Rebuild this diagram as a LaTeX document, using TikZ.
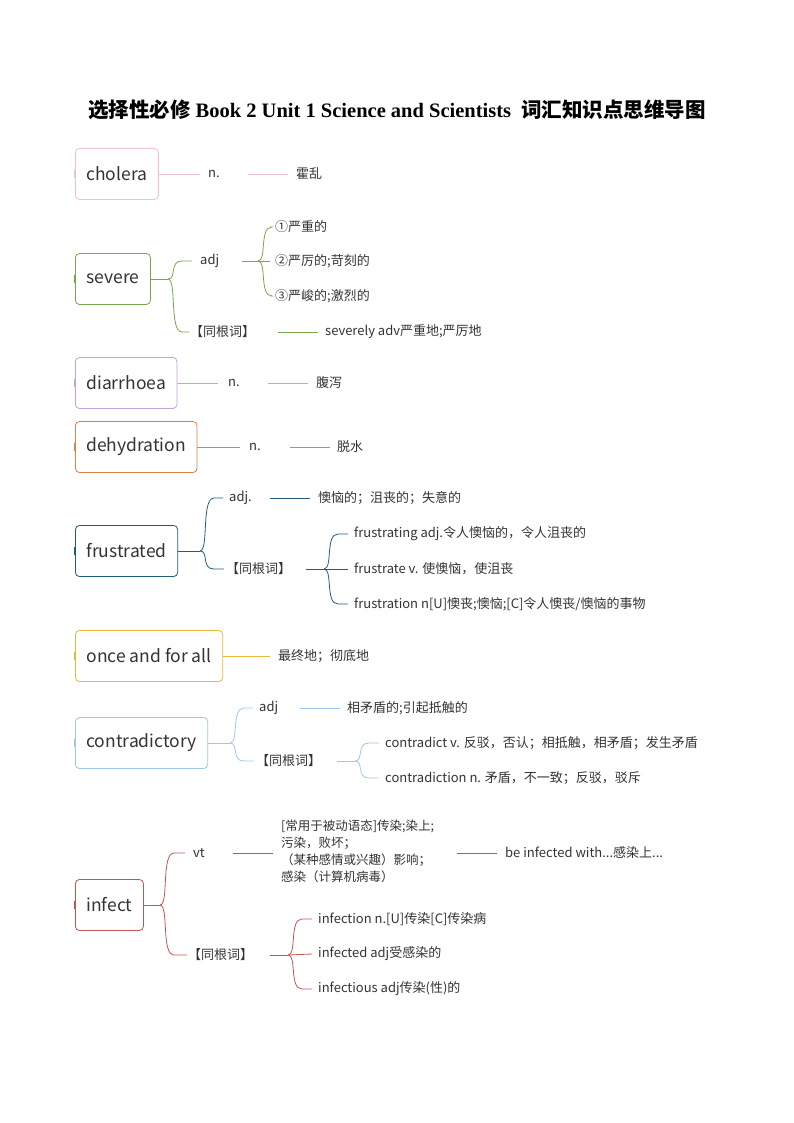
\documentclass[tikz,border=0pt]{standalone}
\usepackage{fontspec}
\setmainfont{Liberation Serif}
\newfontfamily\cjk{Noto Sans CJK SC}
\definecolor{cPink}{HTML}{F0C2CA}
\definecolor{cGreen}{HTML}{7AA54A}
\definecolor{cPurple}{HTML}{C9A0DC}
\definecolor{cOrange}{HTML}{D9834A}
\definecolor{cTeal}{HTML}{1F5F7A}
\definecolor{cGold}{HTML}{E8B93A}
\definecolor{cBlue}{HTML}{9CC7EE}
\definecolor{cRed}{HTML}{C0574E}
\definecolor{txt}{HTML}{333333}
\tikzset{
 rootbox/.style={draw=#1,line width=0.8pt,rounded corners=4pt,anchor=west,minimum height=51pt,inner xsep=11pt,font=\cjk\fontsize{17.5}{20}\selectfont,text=txt},
 leaf/.style={anchor=west,inner sep=0pt,font=\cjk\fontsize{13}{17}\selectfont,text=txt,align=left},
 ln/.style={draw=#1,line width=0.8pt},
}
\newcommand\tick[2]{\fill[#1] ([xshift=-1.5pt,yshift=-4pt]#2.west) rectangle ([xshift=1pt,yshift=4pt]#2.west);}
% \brc{color}{x}{yc}{yk}{target}
\newcommand\brc[5]{\draw[ln=#1] (#2,#3) .. controls (#2+9,#3) and (#2+1,#4) .. (#2+14,#4) -- (#5);}
\begin{document}
\begin{tikzpicture}[x=1pt,y=-1pt]
\useasboundingbox (0,0) rectangle (794,1123);
\node[font=\bfseries\fontsize{20.5}{24}\selectfont,anchor=center] (title) at (397,110) {{\cjk\bfseries 选择性必修} Book 2 Unit 1 Science and Scientists\ \ {\cjk\bfseries 词汇知识点思维导图}};

% cholera
\node[rootbox=cPink] (r1) at (75,174) {cholera};
\tick{cPink}{r1}
\node[leaf] (r1a) at (208,174) {n.};
\node[leaf] (r1b) at (296,174) {霍乱};
\draw[ln=cPink] (r1.east) -- ([xshift=-8pt]r1a.west);
\draw[ln=cPink] (248,174) -- ([xshift=-8pt]r1b.west);

% severe
\node[rootbox=cGreen] (r2) at (75,279) {severe};
\tick{cGreen}{r2}
\node[leaf] (r2a) at (200,261) {adj};
\node[leaf] (r2b) at (190,332) {【同根词】};
\node[leaf] (r2a1) at (275,227) {①严重的};
\node[leaf] (r2a2) at (275,261) {②严厉的;苛刻的};
\node[leaf] (r2a3) at (275,296) {③严峻的;激烈的};
\node[leaf] (r2b1) at (325,332) {severely adv严重地;严厉地};
\draw[ln=cGreen] (r2.east) -- (168,279);
\brc{cGreen}{168}{279}{261}{[xshift=-8pt]r2a.west}
\brc{cGreen}{168}{279}{332}{[xshift=-1pt]r2b.west}
\draw[ln=cGreen] (242,261) -- (258,261);
\brc{cGreen}{258}{261}{227}{[xshift=-5pt]r2a1.west}
\draw[ln=cGreen] (258,261) -- ([xshift=-5pt]r2a2.west);
\brc{cGreen}{258}{261}{296}{[xshift=-5pt]r2a3.west}
\draw[ln=cGreen] (278,332) -- ([xshift=-7pt]r2b1.west);

% diarrhoea
\node[rootbox=cPurple] (r3) at (75,383) {diarrhoea};
\tick{cPurple}{r3}
\node[leaf] (r3a) at (228,383) {n.};
\node[leaf] (r3b) at (316,383) {腹泻};
\draw[ln=cPurple] (r3.east) -- ([xshift=-10pt]r3a.west);
\draw[ln=cPurple] (268,383) -- ([xshift=-8pt]r3b.west);

% dehydration
\node[rootbox=cOrange] (r4) at (75,447) {dehydration};
\tick{cOrange}{r4}
\node[leaf] (r4a) at (249,447) {n.};
\node[leaf] (r4b) at (337,447) {脱水};
\draw[ln=cOrange] (r4.east) -- ([xshift=-9pt]r4a.west);
\draw[ln=cOrange] (290,447) -- ([xshift=-7pt]r4b.west);

% frustrated
\node[rootbox=cTeal] (r5) at (75,551) {frustrated};
\tick{cTeal}{r5}
\node[leaf] (r5a) at (229,498) {adj.};
\node[leaf] (r5b) at (226,569) {【同根词】};
\node[leaf] (r5a1) at (318,498) {懊恼的；沮丧的；失意的};
\node[leaf] (r5b1) at (354,534) {frustrating adj.令人懊恼的，令人沮丧的};
\node[leaf] (r5b2) at (354,569) {frustrate v. 使懊恼，使沮丧};
\node[leaf] (r5b3) at (354,604) {frustration n[U]懊丧;懊恼;[C]令人懊丧/懊恼的事物};
\draw[ln=cTeal] (r5.east) -- (200,551);
\brc{cTeal}{200}{551}{498}{[xshift=-6pt]r5a.west}
\brc{cTeal}{200}{551}{569}{[xshift=-2pt]r5b.west}
\draw[ln=cTeal] (270,498) -- ([xshift=-8pt]r5a1.west);
\draw[ln=cTeal] (306,569) -- (324,569);
\brc{cTeal}{324}{569}{534}{[xshift=-6pt]r5b1.west}
\draw[ln=cTeal] (324,569) -- ([xshift=-6pt]r5b2.west);
\brc{cTeal}{324}{569}{604}{[xshift=-6pt]r5b3.west}

% once and for all
\node[rootbox=cGold] (r6) at (75,656) {once and for all};
\tick{cGold}{r6}
\node[leaf] (r6a) at (278,656) {最终地；彻底地};
\draw[ln=cGold] (r6.east) -- ([xshift=-8pt]r6a.west);

% contradictory
\node[rootbox=cBlue] (r7) at (75,743) {contradictory};
\tick{cBlue}{r7}
\node[leaf] (r7a) at (259,708) {adj};
\node[leaf] (r7b) at (256,761) {【同根词】};
\node[leaf] (r7a1) at (347,708) {相矛盾的;引起抵触的};
\node[leaf] (r7b1) at (385,743) {contradict v. 反驳，否认；相抵触，相矛盾；发生矛盾};
\node[leaf] (r7b2) at (385,778) {contradiction n. 矛盾，不一致；反驳，驳斥};
\draw[ln=cBlue] (r7.east) -- (230,743);
\brc{cBlue}{230}{743}{708}{[xshift=-6pt]r7a.west}
\brc{cBlue}{230}{743}{761}{[xshift=-2pt]r7b.west}
\draw[ln=cBlue] (300,708) -- ([xshift=-7pt]r7a1.west);
\draw[ln=cBlue] (337,761) -- (355,761);
\brc{cBlue}{355}{761}{743}{[xshift=-6pt]r7b1.west}
\brc{cBlue}{355}{761}{778}{[xshift=-6pt]r7b2.west}

% infect
\node[rootbox=cRed] (r8) at (75,905) {infect};
\tick{cRed}{r8}
\node[leaf] (r8a) at (193,853) {vt};
\node[leaf] (r8b) at (188,955) {【同根词】};
\node[leaf,font=\cjk\fontsize{12.5}{17}\selectfont] (r8a1) at (281,851) {[常用于被动语态]传染;染上;\\污染，败坏；\\（某种感情或兴趣）影响；\\感染（计算机病毒）};
\node[leaf] (r8a2) at (505,853) {be infected with...感染上...};
\draw[ln=cRed] (r8.east) -- (160,905);
\brc{cRed}{160}{905}{853}{[xshift=-8pt]r8a.west}
\brc{cRed}{160}{905}{955}{[xshift=-1pt]r8b.west}
\draw[ln=cRed] (233,853) -- (273,853);
\draw[ln=cRed] (457,853) -- ([xshift=-8pt]r8a2.west);
\node[leaf] (r8b1) at (318,919) {infection n.[U]传染[C]传染病};
\node[leaf] (r8b2) at (318,954) {infected adj受感染的};
\node[leaf] (r8b3) at (318,989) {infectious adj传染(性)的};
\draw[ln=cRed] (270,955) -- (288,955);
\brc{cRed}{288}{955}{919}{[xshift=-6pt]r8b1.west}
\draw[ln=cRed] (288,955) -- ([xshift=-6pt]r8b2.west);
\brc{cRed}{288}{955}{989}{[xshift=-6pt]r8b3.west}
\end{tikzpicture}
\end{document}
